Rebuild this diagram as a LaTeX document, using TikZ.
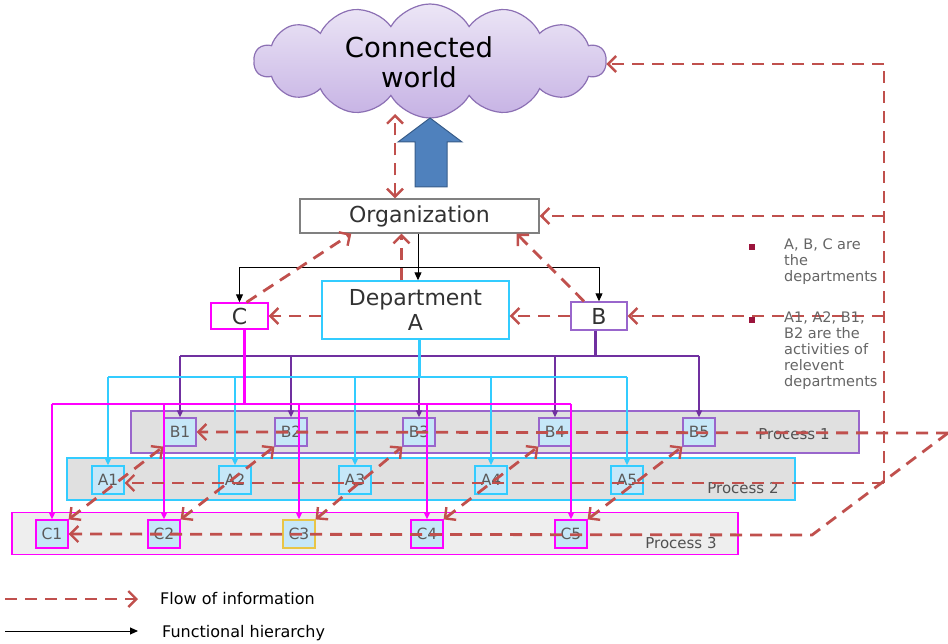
\documentclass[tikz,border=0pt]{standalone}
\usepackage{fontspec}
\setmainfont{DejaVu Sans}
\usetikzlibrary{shapes.symbols,arrows.meta,calc}

\definecolor{flowred}{RGB}{192,80,77}
\definecolor{arrowblue}{RGB}{79,129,189}
\definecolor{arrowedge}{RGB}{56,93,138}
\definecolor{cloudtop}{RGB}{236,230,246}
\definecolor{cloudbot}{RGB}{198,178,228}
\definecolor{cloudedge}{RGB}{140,112,180}
\definecolor{cyanl}{RGB}{51,204,255}
\definecolor{magl}{RGB}{255,0,255}
\definecolor{purpl}{RGB}{112,48,160}
\definecolor{purpbox}{RGB}{153,102,204}
\definecolor{boxfill}{RGB}{198,231,248}
\definecolor{bandgray}{RGB}{224,224,224}
\definecolor{bandlight}{RGB}{238,238,238}
\definecolor{txtgray}{RGB}{50,50,50}
\definecolor{bulletred}{RGB}{155,20,60}
\definecolor{yellowedge}{RGB}{232,197,71}

\begin{document}
\begin{tikzpicture}[x=1pt,y=-1pt,
  flow/.style={draw=flowred, line width=2.8pt, dash pattern=on 12pt off 8pt,
    arrows={-Straight Barb[length=8pt,width=16pt,line width=2.4pt]}},
  flowboth/.style={flow,
    arrows={Straight Barb[length=8pt,width=16pt,line width=2.4pt]-Straight Barb[length=8pt,width=16pt,line width=2.4pt]}},
  flowline/.style={draw=flowred, line width=2.8pt, dash pattern=on 12pt off 8pt},
  hier/.style={draw=black, line width=1pt, arrows={-Triangle[length=8pt,width=7pt]}},
  cyanline/.style={draw=cyanl, line width=1.6pt},
  magline/.style={draw=magl, line width=1.6pt},
  purpline/.style={draw=purpl, line width=1.6pt},
  drop/.style={arrows={-Triangle[length=7pt,width=6pt]}},
  dept/.style={draw, line width=1.4pt, fill=white, inner sep=0pt, text=txtgray,
    font=\fontsize{22}{25}\selectfont, align=center},
  act/.style={draw, line width=1.2pt, fill=boxfill, minimum width=32, minimum height=28,
    inner sep=0pt, text=txtgray!80, font=\fontsize{15.5}{15.5}\selectfont},
  band/.style={draw, line width=1.3pt, minimum height=42, inner sep=0pt},
  bandlabel/.style={text=txtgray!85, font=\fontsize{15}{15}\selectfont},
  note/.style={anchor=north west, inner sep=0pt, text=txtgray!75, align=left,
    font=\fontsize{14.5}{16}\selectfont},
  bulletsq/.style={fill=bulletred, minimum size=6, inner sep=0pt},
  legendtext/.style={anchor=west, inner sep=0pt, text=black,
    font=\fontsize{16}{16}\selectfont}
]
\useasboundingbox (0,0) rectangle (948,644);

% ---------- process bands ----------
\node[band, draw=purpbox, fill=bandgray, minimum width=728] (band1) at (495,432) {};
\node[band, draw=cyanl, fill=bandgray, minimum width=728] (band2) at (431,479) {};
\node[band, draw=magl, fill=bandlight, minimum width=726] (band3) at (375,533.5) {};
\node[bandlabel] (p1) at (794,434) {Process 1};
\node[bandlabel] (p2) at (743,488) {Process 2};
\node[bandlabel] (p3) at (681,543) {Process 3};

% ---------- activities ----------
\foreach \n/\x in {1/180,2/291,3/419,4/555,5/699}
  \node[act, draw=purpbox] (b\n) at (\x,432) {B\n};
\foreach \n/\x in {1/108,2/235,3/355,4/491,5/627}
  \node[act, draw=cyanl] (a\n) at (\x,480) {A\n};
\foreach \n/\x in {1/52,2/164,3/299,4/427,5/571}
  \node[act, draw=magl] (c\n) at (\x,534) {C\n};
\node[act, draw=yellowedge] at (c3) {C3};

% ---------- cloud and organisation ----------
\node[cloud, cloud puffs=14, cloud puff arc=120, aspect=3.1,
      minimum width=352, minimum height=114, inner sep=0pt,
      draw=cloudedge, line width=1.2pt, top color=cloudtop, bottom color=cloudbot]
      (world) at (430,61) {};
\node[align=center, inner sep=0pt, font=\fontsize{27.5}{30}\selectfont]
      (worldtext) at (419,62) {Connected\\world};
\node[dept, draw=gray, minimum width=239, minimum height=34] (org) at (419.5,216) {Organization};
\node[dept, draw=cyanl, minimum width=187, minimum height=58] (depta) at (415.5,310) {Department\\A};
\node[dept, draw=magl, minimum width=57, minimum height=26] (cbox) at (239.5,316) {C};
\node[dept, draw=purpbox, minimum width=56, minimum height=28] (bbox) at (599,316) {B};

% big blue arrow towards the cloud
\draw[fill=arrowblue, draw=arrowedge, line width=1pt]
  (415,187) -- (415,142) -- (398,142) -- (430,118) -- (462,142) -- (447,142) -- (447,187) -- cycle;

% ---------- functional hierarchy ----------
\coordinate (hb) at (418,268);
\draw[hier] (org.south -| hb) -- (depta.north -| hb);
\draw[hier] (hb) -| (cbox.north);
\draw[hier] (hb) -| (bbox.north);

% department B -> B activities
\coordinate (pbus) at (0,356);
\draw[purpline, line width=3pt] (bbox.south -| 595,0) -- (pbus -| 595,0);
\draw[purpline] (pbus -| b1.north) -- (pbus -| b5.north);
\foreach \n in {1,...,5}
  \draw[purpline, drop] (pbus -| b\n.north) -- (b\n.north);

% department A -> A activities
\coordinate (abus) at (0,377);
\draw[cyanline, line width=3pt] (depta.south -| 419,0) -- (abus -| 419,0);
\draw[cyanline] (abus -| a1.north) -- (abus -| a5.north);
\foreach \n in {1,...,5}
  \draw[cyanline, drop] (abus -| a\n.north) -- (a\n.north);

% department C -> C activities
\coordinate (cbus) at (0,404);
\draw[magline, line width=3pt] (cbox.south -| 244,0) -- (cbus -| 244,0);
\draw[magline] (cbus -| c1.north) -- (cbus -| c5.north);
\foreach \n in {1,...,5}
  \draw[magline, drop] (cbus -| c\n.north) -- (c\n.north);

% ---------- flow of information ----------
\coordinate (ow) at (395,114);
\draw[flowboth] (org.north -| ow) -- (ow);

\coordinate (rvt) at (884,64);
\coordinate (rvb) at (884,483);
\draw[flowline] (rvb) -- (rvt);
\draw[flow] (rvt) -- (rvt -| world.east);
\draw[flow] (rvt |- org.east) -- (org.east);
\draw[flow] (rvt |- bbox.east) -- (bbox.east);
\draw[flow] (bbox.west) -- (bbox.west -| depta.east);
\draw[flow] (depta.west |- cbox.east) -- (cbox.east);

\draw[flow] ([xshift=7]cbox.north) -- ([xshift=52]org.south west);
\draw[flow] ([xshift=-14]depta.north) -- ([xshift=-14]depta.north |- org.south);
\draw[flow] ([xshift=-15]bbox.north) -- ([xshift=-23]org.south east);

% rows of activities
\coordinate (rb) at (948,433);
\draw[flow] (rb) -- (b1.east);
\draw[flow] (rvb) -- (rvb -| a1.east);
\draw[flow] (rb) -- (812,535) -- (c1.east);

% activity chains C <-> A <-> B
\foreach \n in {1,...,5}
  \draw[flowboth] (c\n.north east) -- (b\n.south west);

% ---------- notes ----------
\node[bulletsq] (bl1) at (752,247) {};
\node[note] (n1) at (784,239) {A, B, C are\\the\\departments};
\node[bulletsq] (bl2) at (752,320) {};
\node[note] (n2) at (784,312) {A1, A2, B1,\\B2 are the\\activities of\\relevent\\departments};

% ---------- legend ----------
\coordinate (lf1) at (5,599);
\coordinate (lf2) at (138,599);
\draw[flow] (lf1) -- (lf2);
\node[legendtext] (lt1) at (160,599) {Flow of information};
\coordinate (lh1) at (5,631);
\coordinate (lh2) at (138,631);
\draw[hier] (lh1) -- (lh2);
\node[legendtext] (lt2) at (162,633) {Functional hierarchy};
\end{tikzpicture}
\end{document}
